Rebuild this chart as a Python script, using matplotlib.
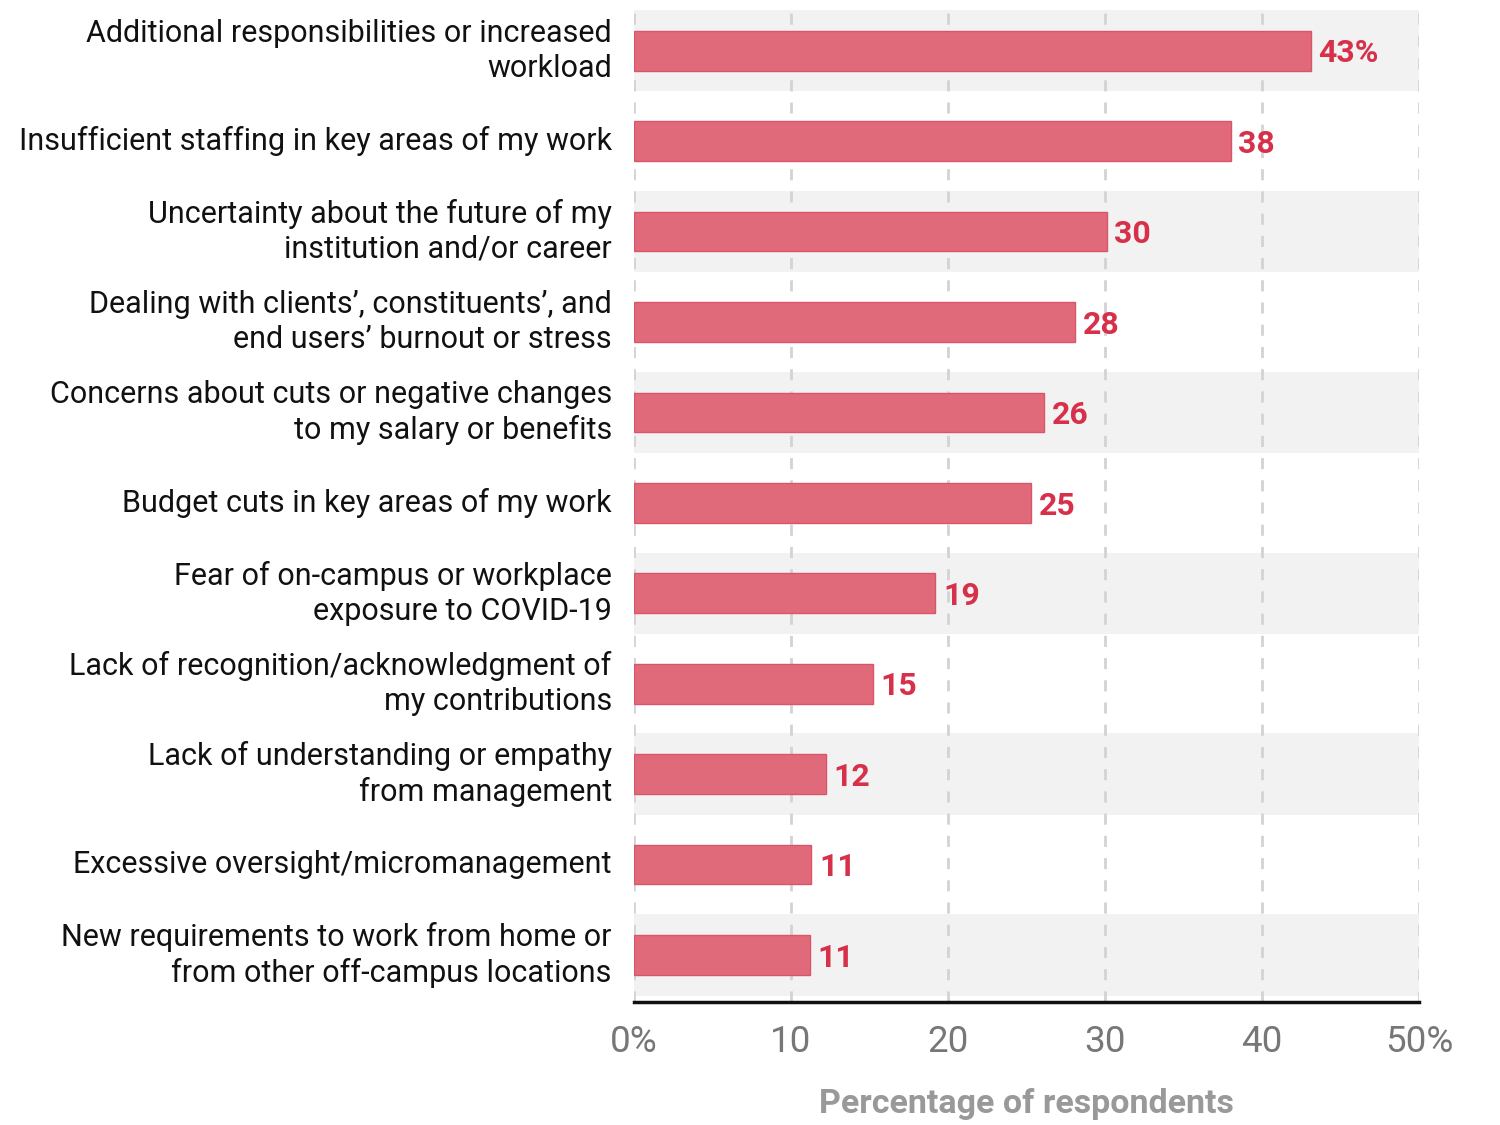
import matplotlib
matplotlib.use("Agg")
import matplotlib.pyplot as plt

# Survey responses, top to bottom
labels = [
    "Additional responsibilities or increased\nworkload",
    "Insufficient staffing in key areas of my work",
    "Uncertainty about the future of my\ninstitution and/or career",
    "Dealing with clients\u2019, constituents\u2019, and\nend users\u2019 burnout or stress",
    "Concerns about cuts or negative changes\nto my salary or benefits",
    "Budget cuts in key areas of my work",
    "Fear of on-campus or workplace\nexposure to COVID-19",
    "Lack of recognition/acknowledgment of\nmy contributions",
    "Lack of understanding or empathy\nfrom management",
    "Excessive oversight/micromanagement",
    "New requirements to work from home or\nfrom other off-campus locations",
]
values = [43.1, 38.0, 30.1, 28.1, 26.1, 25.3, 19.2, 15.2, 12.2, 11.3, 11.2]
value_labels = ["43%", "38", "30", "28", "26", "25", "19", "15", "12", "11", "11"]
xticks = [0, 10, 20, 30, 40, 50]
xtick_labels = ["0%", "10", "20", "30", "40", "50%"]

bar_color = "#e06a7a"
text_red = "#d7304a"
font = "Roboto"

fig = plt.figure(figsize=(15, 11.25), dpi=100)
ax = fig.add_axes([0.4227, 0.1093, 0.5233, 0.8818])

ypos = list(range(len(labels)))

# alternating background bands
for i in ypos:
    if i % 2 == 0:
        ax.axhspan(i - 0.45, i + 0.45, color="#f2f2f2", zorder=0, lw=0)

for x in xticks:
    ax.axvline(x, color="#d3d3d3", lw=2, ls=(0, (4, 4)), zorder=1)

ax.barh(ypos, values, height=0.44, color=bar_color, edgecolor="#d9566a",
        linewidth=1, zorder=2)

for y, v, t in zip(ypos, values, value_labels):
    ax.text(v + 0.5, y + 0.03, t, va="center", ha="left", color=text_red,
            fontsize=23, fontweight="bold", family=font)

ax.set_xlim(0, 50)
ax.set_ylim(10.52, -0.45)
ax.set_yticks(ypos)
ax.set_yticklabels(labels, fontsize=22, family=font, color="#111111",
                   linespacing=1.25, va="center")
ax.tick_params(axis="y", length=0, pad=16)
ax.set_xticks(xticks)
ax.set_xticklabels(xtick_labels, fontsize=26.5, family=font, color="#777777")
ax.tick_params(axis="x", length=0, pad=16)
ax.set_xlabel("Percentage of respondents", fontsize=24.5, fontweight="bold",
              family=font, color="#999999", labelpad=20)

for s in ["top", "right", "left"]:
    ax.spines[s].set_visible(False)
ax.spines["bottom"].set_linewidth(2.5)
ax.spines["bottom"].set_color("#111111")

fig.savefig("out.png", dpi=100)
